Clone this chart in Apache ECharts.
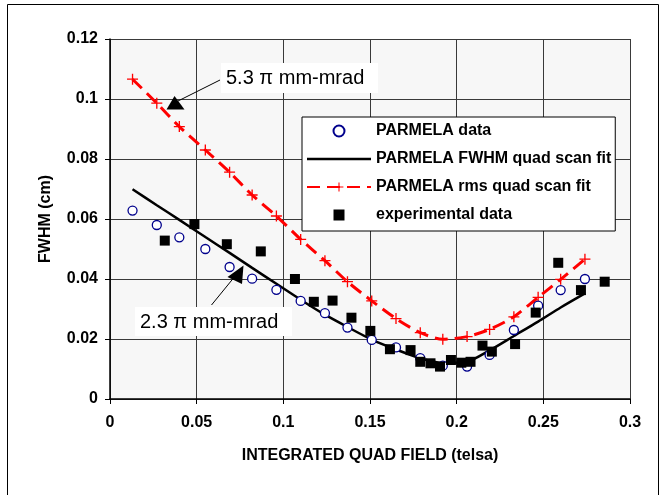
<!DOCTYPE html>
<html>
<head>
<meta charset="utf-8">
<script src="https://cdn.jsdelivr.net/npm/echarts@6/dist/echarts.min.js"></script>
<style>
html,body{margin:0;padding:0;background:#fff;}
#c{width:670px;height:495px;}
</style>
</head>
<body>
<div id="c"></div>
<script>
// Quad field positions (telsa) shared by simulated series
const fieldSim = [0.013,0.027,0.040,0.055,0.069,0.082,0.096,0.110,0.124,0.137,0.151,0.165,0.179,0.192,0.206,0.219,0.233,0.247,0.260,0.274];
// PARMELA data (open circles)
const parmelaData = [0.0628,0.0580,0.0539,0.0500,0.0440,0.0401,0.0364,0.0327,0.0286,0.0238,0.0197,0.0172,0.0136,0.0111,0.0108,0.0147,0.0230,0.0311,0.0363,0.0400];
// PARMELA FWHM quad scan fit (black line)
const fwhmFit = [0.0699,0.0646,0.0597,0.0540,0.0487,0.0437,0.0384,0.0331,0.0281,0.0240,0.0198,0.0165,0.0136,0.0120,0.0124,0.0162,0.0210,0.0258,0.0305,0.0352];
// PARMELA rms quad scan fit (red dashed with +)
const rmsFit = [0.1066,0.0986,0.0908,0.0830,0.0756,0.0680,0.0610,0.0532,0.0461,0.0391,0.0327,0.0268,0.0221,0.0199,0.0208,0.0232,0.0274,0.0339,0.0399,0.0466];
// Experimental data (black squares)
const expField = [0.0316,0.0487,0.0674,0.0870,0.1067,0.1176,0.1284,0.1393,0.1502,0.1615,0.1734,0.1790,0.1849,0.1904,0.1967,0.2027,0.2080,0.2149,0.2203,0.2337,0.2456,0.2586,0.2717,0.2854];
const expFwhm = [0.0528,0.0583,0.0516,0.0492,0.0400,0.0324,0.0328,0.0271,0.0227,0.0166,0.0163,0.0124,0.0119,0.0108,0.0130,0.0121,0.0124,0.0178,0.0158,0.0183,0.0288,0.0454,0.0363,0.0391];
// Axis ticks
const xTicks = {min:0, max:0.3, interval:0.05};
const yTicks = {min:0, max:0.12, interval:0.02};
const seriesNames = ['PARMELA data','PARMELA FWHM quad scan fit','PARMELA rms quad scan fit','experimental data'];

const pair = (xs, ys) => xs.map((x, i) => [x, ys[i]]);
const FONT = '"Liberation Sans", Arial, sans-serif';
const plus = 'path://M0,4.4H10V5.6H0Z M4.4,0H5.6V10H4.4Z';

const chart = echarts.init(document.getElementById('c'), null, {renderer:'canvas'});
chart.setOption({
  animation:false,
  backgroundColor:'#ffffff',
  textStyle:{fontFamily:FONT},
  grid:{left:110,right:40,top:39,bottom:96,show:true,backgroundColor:'#f7f7f7',borderWidth:0},
  xAxis:{
    type:'value', min:xTicks.min, max:xTicks.max, interval:xTicks.interval,
    name:'INTEGRATED QUAD FIELD (telsa)', nameLocation:'middle', nameGap:49,
    nameTextStyle:{fontFamily:FONT,fontWeight:'bold',fontSize:16,color:'#000'},
    axisLine:{show:true,onZero:false,lineStyle:{color:'#000',width:1.5}},
    axisTick:{show:true,inside:false,length:5,lineStyle:{color:'#000',width:1}},
    axisLabel:{margin:16,fontFamily:FONT,fontWeight:'bold',fontSize:16,color:'#000'},
    splitLine:{show:true,lineStyle:{color:'#3a3a3a',width:1}}
  },
  yAxis:{
    type:'value', min:yTicks.min, max:yTicks.max, interval:yTicks.interval,
    name:'FWHM (cm)', nameLocation:'middle', nameGap:56, nameRotate:90,
    nameTextStyle:{fontFamily:FONT,fontWeight:'bold',fontSize:16,color:'#000'},
    axisLine:{show:true,onZero:false,lineStyle:{color:'#000',width:1.5}},
    axisTick:{show:true,inside:false,length:5,lineStyle:{color:'#000',width:1}},
    axisLabel:{margin:12,fontFamily:FONT,fontWeight:'bold',fontSize:16,color:'#000'},
    splitLine:{show:true,lineStyle:{color:'#3a3a3a',width:1}}
  },
  legend:{
    orient:'vertical', left:302, top:117,
    data:[
      {name:seriesNames[0]},
      {name:seriesNames[1], icon:'path://M0,0H60V2.4H0Z'},
      {name:seriesNames[2]},
      {name:seriesNames[3], icon:'path://M0,0H10V10H0Z'}
    ],
    symbolKeepAspect:true,
    itemWidth:64, itemHeight:11, itemGap:12,
    padding:[6,4,8,4],
    backgroundColor:'#ffffff', borderColor:'#000', borderWidth:1, borderRadius:0,
    textStyle:{fontFamily:FONT,fontWeight:'bold',fontSize:16,color:'#000'}
  },
  series:[
    {
      name:seriesNames[0], type:'scatter', z:4,
      data:pair(fieldSim, parmelaData),
      symbol:'circle', symbolSize:9,
      itemStyle:{color:'#ffffff',borderColor:'#00008c',borderWidth:1.3,opacity:1}
    },
    {
      name:seriesNames[1], type:'line', z:2,
      data:pair(fieldSim, fwhmFit),
      showSymbol:false, symbol:'none', smooth:0.25,
      lineStyle:{color:'#000',width:2.5},
      itemStyle:{color:'#000'}
    },
    {
      name:seriesNames[2], type:'line', z:3,
      data:pair(fieldSim, rmsFit),
      symbol:plus, symbolSize:11, showSymbol:true, smooth:0.25,
      lineStyle:{color:'#ff0000',width:3,type:[13,7]},
      itemStyle:{color:'#ff0000',borderWidth:0}
    },
    {
      name:seriesNames[3], type:'scatter', z:5,
      data:pair(expField, expFwhm),
      symbol:'rect', symbolSize:10,
      itemStyle:{color:'#000',opacity:1}
    }
  ],
  graphic:[
    {type:'rect', silent:true, shape:{x:7.5,y:4.5,width:651,height:500}, style:{fill:null,stroke:'#000',lineWidth:1}, z:0},
    // annotation 1
    {type:'rect', shape:{x:221,y:63,width:157,height:30}, style:{fill:'#fff'}, z:100},
    {type:'text', left:226, top:68, style:{text:'5.3 \u03c0 mm-mrad', fill:'#000', font:'20px "Liberation Sans", Arial, sans-serif'}, z:101},
    {type:'line', shape:{x1:220,y1:80,x2:178,y2:101}, style:{stroke:'#000',lineWidth:1}, z:100},
    {type:'polygon', shape:{points:[[166.5,109.5],[184.5,109.5],[174.5,96]]}, style:{fill:'#000'}, z:100},
    // annotation 2
    {type:'rect', shape:{x:135,y:307,width:157,height:29}, style:{fill:'#fff'}, z:100},
    {type:'text', left:140, top:312, style:{text:'2.3 \u03c0 mm-mrad', fill:'#000', font:'20px "Liberation Sans", Arial, sans-serif'}, z:101},
    {type:'line', shape:{x1:211.5,y1:305,x2:236,y2:275}, style:{stroke:'#000',lineWidth:1}, z:100},
    {type:'polygon', shape:{points:[[227.5,277],[242,284],[243.5,265.5]]}, style:{fill:'#000'}, z:100}
  ]
});
</script>
</body>
</html>
